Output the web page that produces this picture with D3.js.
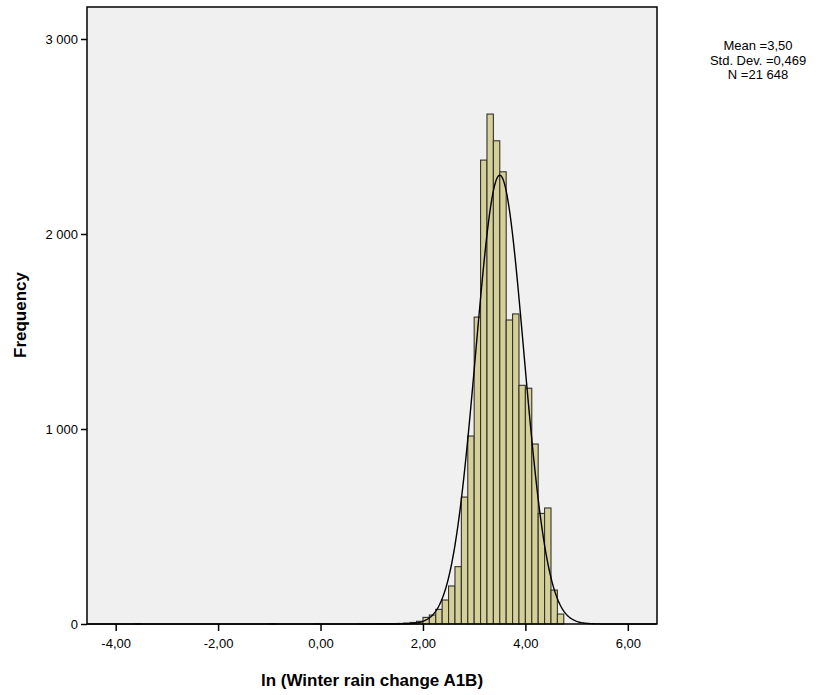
<!DOCTYPE html>
<html>
<head>
<meta charset="utf-8">
<script src="https://cdn.jsdelivr.net/npm/d3@7"></script>
<style>
  body { margin: 0; background: #ffffff; }
  svg { display: block; font-family: "Liberation Sans", Arial, sans-serif; }
</style>
</head>
<body>
<svg id="chart" width="820" height="695"></svg>
<script>
// ---- data ----
const binWidth = 0.125;
const binStarts = [-3.625, -1.0, -0.125, 0.75, 0.875, 1.0, 1.125, 1.25, 1.375, 1.5, 1.625, 1.75, 1.875,
  2.0, 2.125, 2.25, 2.375, 2.5, 2.625, 2.75, 2.875, 3.0, 3.125, 3.25, 3.375, 3.5, 3.625, 3.75, 3.875,
  4.0, 4.125, 4.25, 4.375, 4.5, 4.625];
const frequencies = [1, 1, 1, 1, 1, 1, 2, 2, 2, 3, 5, 8, 14,
  34, 46, 75, 123, 195, 294, 651, 964, 1574, 2379, 2615, 2478, 2319, 1559, 1590, 1224,
  1209, 923, 567, 595, 174, 51];
const xTickValues = [-4, -2, 0, 2, 4, 6];
const xTickLabels = ["-4,00", "-2,00", "0,00", "2,00", "4,00", "6,00"];
const yTickValues = [0, 1000, 2000, 3000];
const yTickLabels = ["0", "1 000", "2 000", "3 000"];
const statMean = 3.50;
const statSD = 0.469;
const statN = 21648;
const statLines = ["Mean =3,50", "Std. Dev. =0,469", "N =21 648"];
const xTitle = "ln (Winter rain change A1B)";
const yTitle = "Frequency";

// ---- layout ----
const svg = d3.select("#chart");
const L = 87, R = 657, T = 7, B = 624;

const x = d3.scaleLinear().domain([-4.56, 6.57]).range([L, R]);
const y = d3.scaleLinear().domain([0, 3000]).range([B, 39]);

// plot background
svg.append("rect").attr("x", L).attr("y", T).attr("width", R - L).attr("height", B - T)
  .attr("fill", "#f0f0f0");

// bars
const bins = binStarts.map((s, i) => ({ x0: s, x1: s + binWidth, n: frequencies[i] }));
svg.append("g").selectAll("rect").data(bins).join("rect")
  .attr("x", d => x(d.x0))
  .attr("y", d => y(d.n))
  .attr("width", d => x(d.x1) - x(d.x0))
  .attr("height", d => y(0) - y(d.n))
  .attr("fill", "#d5d09a")
  .attr("stroke", "#33332b")
  .attr("stroke-width", 1.1);

// normal curve from displayed statistics
const scaleFactor = statN * binWidth / (statSD * Math.sqrt(2 * Math.PI));
const curvePts = d3.range(-4.56, 6.57, 0.02).map(v => [v, scaleFactor * Math.exp(-0.5 * Math.pow((v - statMean) / statSD, 2))]);
svg.append("path").datum(curvePts)
  .attr("fill", "none").attr("stroke", "#000").attr("stroke-width", 1.4)
  .attr("d", d3.line().x(d => x(d[0])).y(d => y(d[1])));

// frame
svg.append("rect").attr("x", L).attr("y", T).attr("width", R - L).attr("height", B - T)
  .attr("fill", "none").attr("stroke", "#000").attr("stroke-width", 1.5);

// axes
const xAxis = d3.axisBottom(x).tickValues(xTickValues).tickSize(7).tickSizeOuter(0)
  .tickFormat((d, i) => xTickLabels[i]);
const gx = svg.append("g").attr("transform", `translate(0,${B})`).call(xAxis);
gx.select(".domain").remove();
gx.selectAll("line").attr("stroke", "#000").attr("stroke-width", 1.5);
gx.selectAll("text").attr("font-size", 13).attr("fill", "#000").attr("dy", "1.05em")
  .attr("font-family", "Liberation Sans, Arial, sans-serif");

const yAxis = d3.axisLeft(y).tickValues(yTickValues).tickSize(6).tickSizeOuter(0)
  .tickFormat((d, i) => yTickLabels[i]);
const gy = svg.append("g").attr("transform", `translate(${L},0)`).call(yAxis);
gy.select(".domain").remove();
gy.selectAll("line").attr("stroke", "#000").attr("stroke-width", 1.5);
gy.selectAll("text").attr("font-size", 13).attr("fill", "#000").attr("x", -9)
  .attr("font-family", "Liberation Sans, Arial, sans-serif");

// axis titles
svg.append("text").attr("x", 372).attr("y", 686).attr("text-anchor", "middle")
  .attr("font-size", 17).attr("font-weight", "bold").text(xTitle);
svg.append("text").attr("transform", "translate(26,315) rotate(-90)").attr("text-anchor", "middle")
  .attr("font-size", 17).attr("font-weight", "bold").text(yTitle);

// stats box
svg.append("g").selectAll("text").data(statLines).join("text")
  .attr("x", 758).attr("y", (d, i) => 50 + i * 14.5)
  .attr("text-anchor", "middle").attr("font-size", 13).attr("fill", "#000")
  .text(d => d);
</script>
</body>
</html>
